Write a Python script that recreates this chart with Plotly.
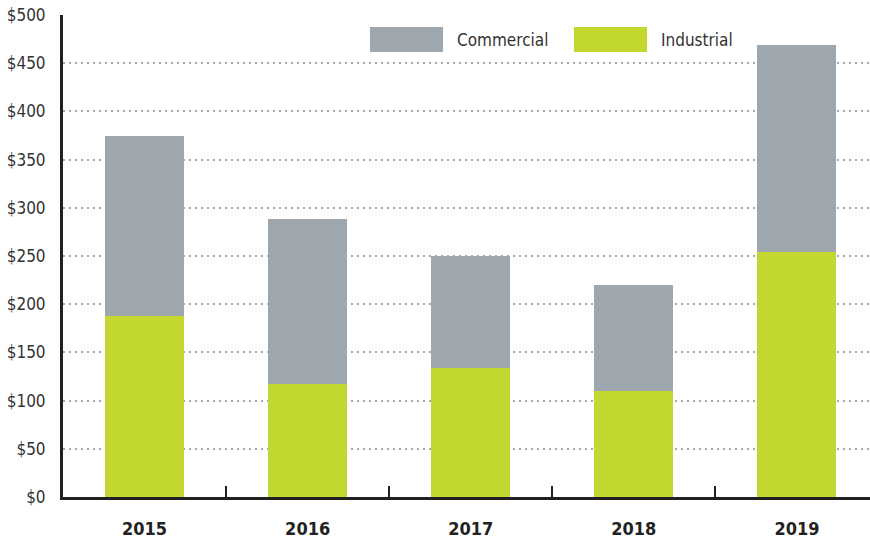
import plotly.graph_objects as go

years = ["2015", "2016", "2017", "2018", "2019"]
industrial = [188, 117, 134, 110, 254]
commercial = [187, 171, 116, 110, 215]
y_ticks = [0, 50, 100, 150, 200, 250, 300, 350, 400, 450, 500]
y_labels = ["$" + str(v) for v in y_ticks]

C_COM = "#9ea7ad"
C_IND = "#c2d72f"
DARK = "#231f20"
FONT = "DejaVu Sans Condensed, Liberation Sans Narrow, sans-serif"

fig = go.Figure()
fig.add_trace(go.Bar(x=years, y=industrial, name="Industrial", marker_color=C_IND,
                     marker_line_width=0, width=0.485, showlegend=False))
fig.add_trace(go.Bar(x=years, y=commercial, name="Commercial", marker_color=C_COM,
                     marker_line_width=0, width=0.485, showlegend=False))

# legend swatches (decoration)
legend_items = [("Commercial", C_COM, 0.3804, 0.4709, 0.4857),
                ("Industrial", C_IND, 0.6332, 0.7237, 0.7385)]
for name, col, x0, x1, tx in legend_items:
    fig.add_shape(type="rect", xref="paper", yref="paper", x0=x0, x1=x1, y0=0.923, y1=0.975,
                  fillcolor=col, line_width=0, layer="above")
    fig.add_annotation(text=name, xref="paper", yref="paper", x=tx, y=0.949,
                       xanchor="left", yanchor="middle", showarrow=False,
                       font=dict(family=FONT, size=17, color="#333333"))

fig.update_layout(
    barmode="stack",
    width=870, height=538,
    margin=dict(l=63, r=0, t=15, b=41, autoexpand=False),
    plot_bgcolor="white", paper_bgcolor="white",
    font=dict(family=FONT, color="#333333"),
    bargap=0,
)
fig.update_xaxes(
    type="category", range=[-0.5, 4.448],
    showline=True, linewidth=3, linecolor=DARK,
    ticks="inside", tickson="boundaries", ticklen=11, tickwidth=2, tickcolor=DARK,
    tickfont=dict(family=FONT, size=18, color="#222222", weight="bold"),
    ticklabelstandoff=13,
    showgrid=False,
)
fig.update_yaxes(
    range=[0, 500], tickvals=y_ticks, ticktext=y_labels,
    showline=True, linewidth=3, linecolor=DARK,
    ticks="", ticklabelstandoff=11,
    tickfont=dict(family=FONT, size=17, color="#333333"),
    showgrid=True, gridcolor="#a8a8a8", gridwidth=2, griddash="2px,4px",
    zeroline=False,
)

fig.write_html("out.html", config={"displayModeBar": False},
               post_script="document.body.style.margin='0';")
